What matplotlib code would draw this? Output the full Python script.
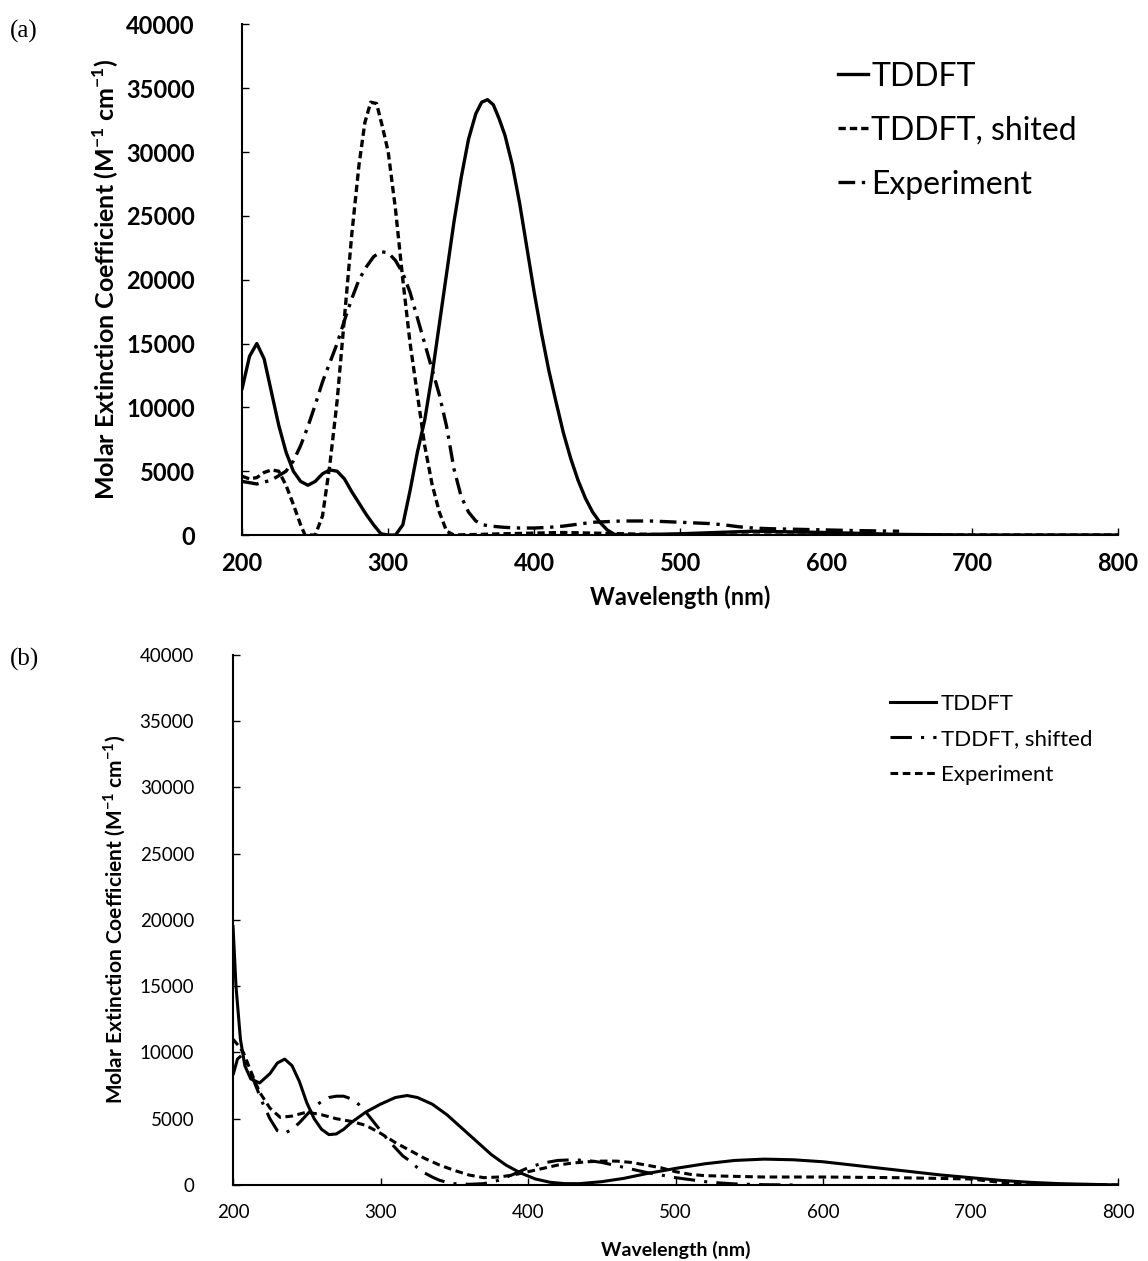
import matplotlib.pyplot as plt

# panel (a) data
wl_a_tddft = [200, 205, 210, 215, 220, 225, 230, 235, 240, 245, 250, 255, 260, 265, 270, 275, 280, 285, 290, 295,
              300, 305, 310, 315, 320, 325, 330, 335, 340, 345, 350, 355, 360, 364, 368, 372, 376, 380, 385, 390, 395,
              400, 405, 410, 415, 420, 425, 430, 435, 440, 445, 450, 455, 460, 500, 550, 600, 650, 700, 800]
eps_a_tddft = [11500, 14000, 15000, 13800, 11200, 8600, 6500, 5000, 4200, 3900, 4200, 4800, 5100, 5000, 4400, 3400,
               2500, 1600, 800, 100, 0, 0, 800, 3500, 6500, 9000, 12500, 16500, 20500, 24500, 28000, 31000, 33000,
               33900, 34100, 33700, 32600, 31300, 29000, 26000, 22500, 19000, 15800, 12900, 10400, 8000, 6000, 4300,
               2900, 1800, 1000, 400, 50, 0, 100, 300, 200, 50, 0, 0]

wl_a_shift = [200, 205, 210, 215, 220, 225, 230, 235, 240, 243, 250, 255, 260, 265, 270, 275, 280, 284, 288, 292,
              296, 300, 305, 310, 315, 320, 325, 330, 335, 340, 345, 380, 420, 460, 500, 800]
eps_a_shift = [4600, 4400, 4500, 4900, 5100, 5000, 3900, 2400, 800, 0, 0, 1500, 5500, 10500, 17000, 23500, 29000,
               32300, 33900, 33800, 32000, 30000, 25500, 20000, 15000, 11000, 7000, 4000, 1800, 300, 0, 100, 200, 100,
               0, 0]

wl_a_exp = [200, 210, 220, 230, 235, 240, 245, 250, 255, 260, 265, 270, 275, 280, 285, 290, 295, 300, 305, 310,
            315, 320, 325, 330, 335, 340, 345, 350, 355, 360, 365, 370, 380, 390, 400, 410, 420, 430, 440, 450,
            460, 470, 480, 490, 500, 510, 520, 530, 540, 550, 560, 580, 600, 620, 650]
eps_a_exp = [4200, 4000, 4300, 5000, 5800, 7000, 8500, 10200, 12000, 13500, 15000, 16800, 18500, 20000, 21000, 21800,
             22200, 22100, 21500, 20500, 19000, 17000, 15000, 13000, 11000, 8500, 5200, 3000, 1800, 1100, 800, 700,
             600, 550, 550, 600, 700, 850, 1000, 1050, 1100, 1100, 1100, 1050, 1000, 950, 900, 800, 650, 550, 500,
             450, 400, 350, 300]

# panel (b) data
wl_b_tddft = [200, 202, 205, 208, 212, 218, 225, 230, 235, 240, 245, 250, 255, 260, 265, 270, 275, 280, 290, 300,
              310, 318, 325, 335, 345, 355, 365, 375, 385, 395, 405, 415, 425, 435, 450, 465, 480, 500, 520, 540,
              560, 580, 600, 620, 640, 660, 680, 700, 720, 740, 760, 780, 800]
eps_b_tddft = [19500, 15000, 11000, 9000, 8000, 7700, 8400, 9200, 9500, 9000, 7800, 6200, 5000, 4200, 3800, 3850,
               4200, 4700, 5500, 6100, 6600, 6750, 6600, 6100, 5300, 4300, 3300, 2300, 1500, 900, 450, 200, 100, 100,
               250, 500, 850, 1250, 1600, 1850, 1950, 1900, 1750, 1500, 1250, 1000, 750, 550, 350, 200, 100, 50, 0]

wl_b_shift = [200, 203, 206, 210, 215, 220, 225, 230, 235, 240, 245, 250, 255, 260, 265, 270, 275, 280, 285, 290,
              295, 300, 305, 310, 315, 320, 325, 330, 335, 340, 345, 350, 360, 370, 380, 390, 400, 410, 420, 430,
              440, 450, 460, 470, 480, 490, 500, 510, 520, 530, 540, 560, 580]
eps_b_shift = [8300, 9500, 9800, 9000, 7600, 6200, 5000, 4100, 3900, 4200, 4700, 5300, 5900, 6300, 6600, 6700, 6700,
               6500, 6100, 5500, 4800, 4100, 3400, 2800, 2200, 1800, 1300, 900, 600, 350, 200, 100, 50, 100, 350,
               800, 1300, 1650, 1850, 1900, 1850, 1700, 1450, 1200, 950, 750, 550, 400, 250, 150, 80, 20, 0]

wl_b_exp = [200, 203, 207, 212, 218, 225, 232, 240, 250, 260, 270, 280, 290, 300, 310, 320, 330, 340, 350, 360,
            370, 380, 390, 400, 410, 420, 430, 440, 450, 460, 470, 480, 490, 500, 510, 520, 540, 560, 600, 650,
            700, 720, 740, 800]
eps_b_exp = [11000, 10600, 10000, 8600, 7000, 5800, 5100, 5200, 5500, 5300, 5000, 4800, 4500, 3900, 3200, 2600, 2000,
             1500, 1100, 750, 550, 600, 750, 1000, 1250, 1500, 1650, 1750, 1800, 1800, 1700, 1500, 1300, 1000, 800,
             700, 650, 600, 600, 550, 450, 200, 0, 0]

yticks = [0, 5000, 10000, 15000, 20000, 25000, 30000, 35000, 40000]
xticks = [200, 300, 400, 500, 600, 700, 800]

plt.rcParams['font.family'] = ['Lato', 'DejaVu Sans']

fig = plt.figure(figsize=(11.48, 12.61), dpi=100)
ax1 = fig.add_axes([0.211, 0.5757, 0.763, 0.405])
ax2 = fig.add_axes([0.203, 0.0603, 0.771, 0.4203])

ylab = 'Molar Extinction Coefficient (M$^{\\mathregular{-1}}$ cm$^{\\mathregular{-1}}$)'

# (a)
ax1.plot(wl_a_tddft, eps_a_tddft, color='black', lw=2.4, label='TDDFT')
ax1.plot(wl_a_shift, eps_a_shift, color='black', lw=2.4, dashes=(2.2, 1.2), label='TDDFT, shited')
ax1.plot(wl_a_exp, eps_a_exp, color='black', lw=2.4, dashes=(5, 2, 1, 2), label='Experiment')
ax1.set_xlim(200, 800)
ax1.set_ylim(0, 40000)
ax1.set_xticks(xticks)
ax1.set_yticks(yticks)
ax1.tick_params(direction='in', length=5, width=1, labelsize=17)
ax1.tick_params(axis='y', pad=34)
ax1.tick_params(axis='x', pad=12)
for t in ax1.get_xticklabels() + ax1.get_yticklabels():
    t.set_fontweight('bold')
ax1.set_xlabel('Wavelength (nm)', fontsize=17, fontweight='bold', labelpad=8)
ax1.set_ylabel(ylab, fontsize=18, fontweight='bold', labelpad=4)
for s in ['top', 'right']:
    ax1.spines[s].set_visible(False)
ax1.spines['left'].set_linewidth(1.5)
ax1.spines['bottom'].set_linewidth(1.5)
ax1.legend(loc='upper left', bbox_to_anchor=(0.68, 0.927), frameon=False, fontsize=23,
           handlelength=0.95, handletextpad=0.1, labelspacing=0.75, borderpad=0, borderaxespad=0)

# (b)
ax2.plot(wl_b_tddft, eps_b_tddft, color='black', lw=2.2, label='TDDFT')
ax2.plot(wl_b_shift, eps_b_shift, color='black', lw=2.2, dashes=(7, 3, 1, 3), label='TDDFT, shifted')
ax2.plot(wl_b_exp, eps_b_exp, color='black', lw=2.2, dashes=(2.5, 1.5), label='Experiment')
ax2.set_xlim(200, 800)
ax2.set_ylim(0, 40000)
ax2.set_xticks(xticks)
ax2.set_yticks(yticks)
ax2.tick_params(direction='in', length=5, width=1, labelsize=13.5)
ax2.tick_params(axis='y', pad=28)
ax2.tick_params(axis='x', pad=14)
ax2.set_xlabel('Wavelength (nm)', fontsize=14, fontweight='bold', labelpad=14)
ax2.set_ylabel(ylab, fontsize=15, fontweight='bold', labelpad=8)
for s in ['top', 'right']:
    ax2.spines[s].set_visible(False)
ax2.spines['left'].set_linewidth(1.5)
ax2.spines['bottom'].set_linewidth(1.5)
ax2.legend(loc='upper left', bbox_to_anchor=(0.742, 0.927), frameon=False, fontsize=16,
           handlelength=2.1, handletextpad=0.2, labelspacing=0.7, borderpad=0, borderaxespad=0)

fig.text(0.009, 0.975, '(a)', fontsize=18, family='Liberation Serif', va='center')
fig.text(0.009, 0.477, '(b)', fontsize=18, family='Liberation Serif', va='center')

fig.savefig('out.png', dpi=100)
